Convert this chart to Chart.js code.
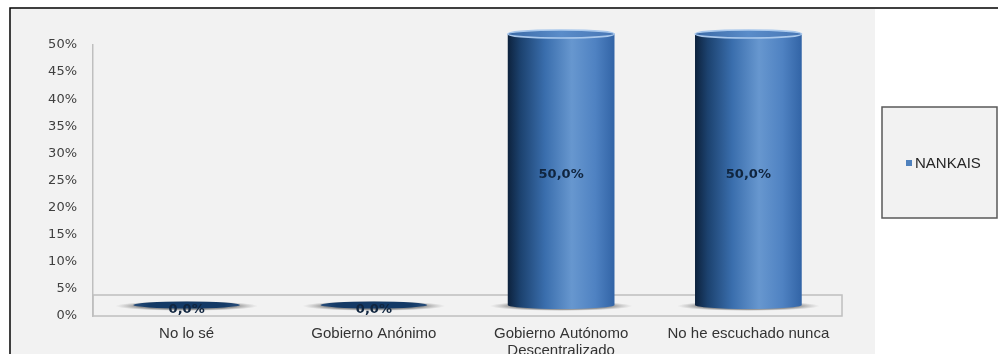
<!DOCTYPE html>
<html lang="es">
<head>
<meta charset="UTF-8" />
<title>NANKAIS</title>
<style>
  html, body { margin: 0; padding: 0; background: #fff; }
  #wrap { width: 998px; height: 354px; position: relative; }
</style>
</head>
<body>
<div id="wrap"><canvas id="chart"></canvas></div>

<script src="https://cdn.jsdelivr.net/npm/chart.js@4.4.1/dist/chart.umd.min.js"></script>
<script>
// data
const categories = ['No lo sé', 'Gobierno Anónimo', ['Gobierno Autónomo', 'Descentralizado'], 'No he escuchado nunca'];
const seriesName = 'NANKAIS';
const nankais = [0, 0, 50, 50];
const yMax = 50;
const yStep = 5;

const seriesColor = '#4f81bd';
const depth = 11;      // 3D offset of the cylinders above the axis floor
const capRy = 4;       // half-height of the ellipse caps

function fmt(v) {
  return v.toFixed(1).replace('.', ',') + '%';
}

// page frame, grey plot panel, the floor slab
const frame = {
  id: 'frame',
  beforeDraw(chart) {
    const ctx = chart.ctx;
    ctx.save();
    ctx.fillStyle = '#ffffff';
    ctx.fillRect(0, 0, chart.width, chart.height);
    ctx.fillStyle = '#f2f2f2';
    ctx.fillRect(11, 9, 864, chart.height - 9);
    ctx.strokeStyle = '#000';
    ctx.lineWidth = 1.5;
    ctx.beginPath();
    ctx.moveTo(10, chart.height);
    ctx.lineTo(10, 8);
    ctx.lineTo(chart.width, 8);
    ctx.stroke();
    ctx.restore();
  },
  beforeDatasetsDraw(chart) {
    const ctx = chart.ctx;
    const a = chart.chartArea;
    ctx.save();
    ctx.strokeStyle = '#bfbfbf';
    ctx.lineWidth = 1.5;
    ctx.strokeRect(a.left, a.bottom - 21, a.right - a.left, 21);
    ctx.restore();
  }
};

function baseShadow(ctx, x, y, rx) {
  ctx.save();
  ctx.translate(x, y);
  ctx.scale(1, 0.07);
  const g = ctx.createRadialGradient(0, 0, 0, 0, 0, rx);
  g.addColorStop(0, 'rgba(60,60,60,0.8)');
  g.addColorStop(0.7, 'rgba(90,90,90,0.6)');
  g.addColorStop(1, 'rgba(140,140,140,0)');
  ctx.fillStyle = g;
  ctx.beginPath();
  ctx.arc(0, 0, rx, 0, Math.PI * 2);
  ctx.fill();
  ctx.restore();
}

// cylinders + value labels, positioned from the bar elements
const cylinders = {
  id: 'cylinders',
  afterDatasetsDraw(chart) {
    const ctx = chart.ctx;
    const meta = chart.getDatasetMeta(0);
    meta.data.forEach((bar, i) => {
      const p = bar.getProps(['x', 'y', 'base', 'width'], true);
      const x = p.x;
      const rx = p.width / 2;
      const top = p.y - depth;
      const bottom = p.base - depth;

      baseShadow(ctx, x, bottom + 1, rx + 18);

      ctx.save();
      if (bottom - top > 1) {
        const g = ctx.createLinearGradient(x - rx, 0, x + rx, 0);
        g.addColorStop(0, '#0d223d');
        g.addColorStop(0.12, '#1c426f');
        g.addColorStop(0.35, '#3a6ead');
        g.addColorStop(0.6, '#6797cf');
        g.addColorStop(0.82, '#4f82c2');
        g.addColorStop(1, '#3264a6');
        ctx.fillStyle = g;
        ctx.beginPath();
        ctx.moveTo(x - rx, top);
        ctx.lineTo(x - rx, bottom);
        ctx.ellipse(x, bottom, rx, capRy, 0, Math.PI, 0, true);
        ctx.lineTo(x + rx, top);
        ctx.closePath();
        ctx.fill();

        const c = ctx.createLinearGradient(x - rx, 0, x + rx, 0);
        c.addColorStop(0, '#3b6aa6');
        c.addColorStop(0.5, '#5a8cc9');
        c.addColorStop(1, '#4877b5');
        ctx.fillStyle = c;
        ctx.strokeStyle = '#a9c8ec';
        ctx.lineWidth = 1.5;
        ctx.beginPath();
        ctx.ellipse(x, top, rx, capRy, 0, 0, Math.PI * 2);
        ctx.fill();
        ctx.stroke();
      } else {
        const g = ctx.createLinearGradient(x - rx, 0, x + rx, 0);
        g.addColorStop(0, '#2a4f7c');
        g.addColorStop(0.15, '#143a66');
        g.addColorStop(0.85, '#143a66');
        g.addColorStop(1, '#2a4f7c');
        ctx.fillStyle = g;
        ctx.beginPath();
        ctx.ellipse(x, bottom, rx, capRy - 0.5, 0, 0, Math.PI * 2);
        ctx.fill();
      }

      ctx.fillStyle = '#10253f';
      ctx.font = 'bold 13px "DejaVu Sans", Verdana, sans-serif';
      ctx.textAlign = 'center';
      ctx.textBaseline = 'middle';
      ctx.fillText(fmt(nankais[i]), x, (top + bottom) / 2 + 5);
      ctx.restore();
    });
  }
};

// legend box on the right
const legendBox = {
  id: 'legendBox',
  afterDraw(chart) {
    const ctx = chart.ctx;
    ctx.save();
    ctx.fillStyle = '#f2f2f2';
    ctx.fillRect(882, 107, 115, 111);
    ctx.strokeStyle = '#595959';
    ctx.lineWidth = 1.5;
    ctx.strokeRect(882, 107, 115, 111);
    ctx.fillStyle = seriesColor;
    ctx.fillRect(906, 160, 6, 6);
    ctx.fillStyle = '#262626';
    ctx.font = '15px "Liberation Sans", Arial, sans-serif';
    ctx.textBaseline = 'middle';
    ctx.fillText(chart.data.datasets[0].label, 915, 164);
    ctx.restore();
  }
};

new Chart(document.getElementById('chart'), {
  type: 'bar',
  data: {
    labels: categories,
    datasets: [{
      label: seriesName,
      data: nankais,
      backgroundColor: 'rgba(0,0,0,0)',
      borderWidth: 0,
      categoryPercentage: 1,
      barPercentage: 0.57
    }]
  },
  options: {
    responsive: true,
    maintainAspectRatio: false,
    animation: false,
    layout: { padding: { top: 45, right: 156, bottom: 0, left: 0 } },
    plugins: {
      legend: { display: false },
      tooltip: { enabled: false }
    },
    scales: {
      x: {
        grid: { display: false, drawTicks: false },
        border: { display: false },
        ticks: {
          autoSkip: false,
          maxRotation: 0,
          padding: 10,
          color: '#333',
          font: { family: '"Liberation Sans", Arial, sans-serif', size: 15, lineHeight: 1.1 }
        },
        afterFit(scale) { scale.height = 38; }
      },
      y: {
        min: 0,
        max: yMax,
        grid: { display: false, drawTicks: false },
        border: { display: true, color: '#bfbfbf', width: 1.5 },
        ticks: {
          stepSize: yStep,
          padding: 16,
          color: '#404040',
          font: { family: '"DejaVu Sans", Verdana, sans-serif', size: 13 },
          callback: v => v + '%'
        },
        afterFit(scale) { scale.width = 93; }
      }
    }
  },
  plugins: [frame, cylinders, legendBox]
});
</script>
</body>
</html>
